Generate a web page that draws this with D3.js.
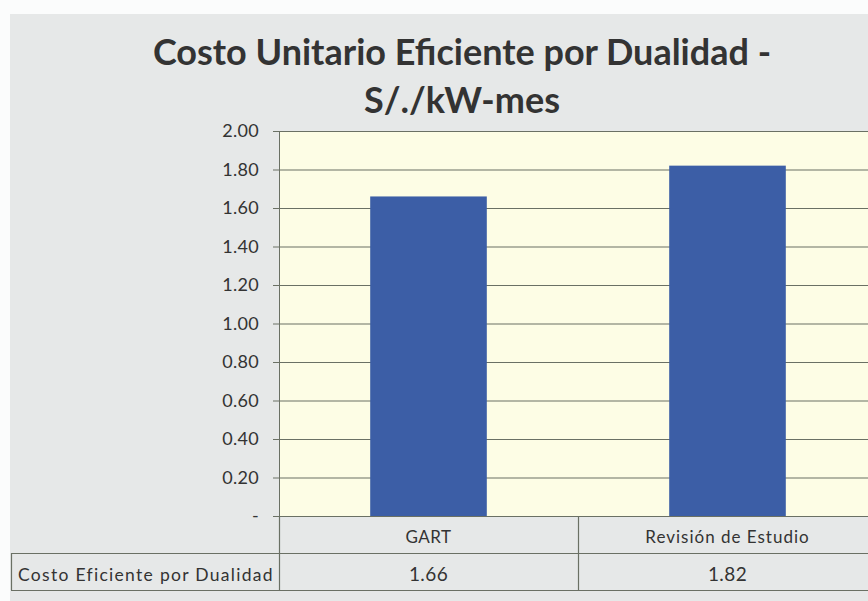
<!DOCTYPE html>
<html>
<head>
<meta charset="utf-8">
<script src="https://cdn.jsdelivr.net/npm/d3@7"></script>
<style>
  html, body { margin: 0; padding: 0; background: #fbfcfc; }
  svg { display: block; }
</style>
</head>
<body>
<svg id="chart" width="868" height="601"></svg>
<script>
// data
const categories = ['GART', 'Revisión de Estudio']
const values = [1.66, 1.82]
const seriesName = 'Costo Eficiente por Dualidad'
const tickValues = [0, 0.2, 0.4, 0.6, 0.8, 1.0, 1.2, 1.4, 1.6, 1.8, 2.0]
const titleLines = ['Costo Unitario Eficiente por Dualidad -', 'S/./kW-mes']

const font = 'Lato, "Open Sans", sans-serif'
const gridColor = '#6a7064'
const textColor = '#333333'

const svg = d3.select('#chart')

// grey paper background
svg.append('rect')
    .attr('x', 10).attr('y', 14)
    .attr('width', 858).attr('height', 587)
    .attr('fill', '#e6e8e8')

const plotLeft = 279, plotRight = 877
const plotTop = 131, plotBottom = 516

const x = d3.scaleBand()
    .domain(categories)
    .range([plotLeft, plotRight])
    .padding(0)

const y = d3.scaleLinear()
    .domain([0, 2])
    .range([plotBottom, plotTop])

// plot area
svg.append('rect')
    .attr('x', plotLeft).attr('y', plotTop)
    .attr('width', plotRight - plotLeft).attr('height', plotBottom - plotTop)
    .attr('fill', '#fdfde5')

// gridlines
svg.append('g')
    .selectAll('line')
    .data(tickValues)
    .enter()
    .append('line')
    .attr('x1', plotLeft - 6)
    .attr('x2', plotRight)
    .attr('y1', d => y(d) + 0.5)
    .attr('y2', d => y(d) + 0.5)
    .attr('stroke', gridColor)
    .attr('stroke-width', 1.2)

// y axis line
svg.append('line')
    .attr('x1', plotLeft + 0.5).attr('x2', plotLeft + 0.5)
    .attr('y1', plotTop).attr('y2', plotBottom)
    .attr('stroke', gridColor)

// tick labels
svg.append('g')
    .selectAll('text')
    .data(tickValues)
    .enter()
    .append('text')
    .attr('x', 259)
    .attr('y', d => y(d))
    .attr('dy', '0.36em')
    .attr('text-anchor', 'end')
    .attr('font-family', font)
    .attr('font-size', 18)
    .attr('letter-spacing', '0.3px')
    .attr('fill', textColor)
    .text(d => d === 0 ? '-' : d.toFixed(2))

// bars
const barFrac = 0.39
svg.append('g')
    .selectAll('rect')
    .data(values)
    .enter()
    .append('rect')
    .attr('x', (d, i) => x(categories[i]) + x.bandwidth() * (1 - barFrac) / 2)
    .attr('width', x.bandwidth() * barFrac)
    .attr('y', d => y(d))
    .attr('height', d => y(0) - y(d))
    .attr('fill', '#3c5ea6')

// data table
const row1 = plotBottom, row2 = 553, row3 = 590
const tableLeft = 11
const tbl = svg.append('g')
    .attr('stroke', gridColor)
    .attr('stroke-width', 1.2)

tbl.append('line').attr('x1', tableLeft).attr('x2', plotRight)
    .attr('y1', row2 + 0.5).attr('y2', row2 + 0.5)
tbl.append('line').attr('x1', tableLeft).attr('x2', plotRight)
    .attr('y1', row3 + 0.5).attr('y2', row3 + 0.5)
tbl.append('line').attr('x1', tableLeft + 0.5).attr('x2', tableLeft + 0.5)
    .attr('y1', row2).attr('y2', row3)
tbl.selectAll('line.v')
    .data(categories.concat([null]))
    .enter()
    .append('line')
    .attr('class', 'v')
    .attr('x1', (d, i) => plotLeft + i * x.step() + 0.5)
    .attr('x2', (d, i) => plotLeft + i * x.step() + 0.5)
    .attr('y1', row1)
    .attr('y2', row3)

svg.append('g')
    .selectAll('text')
    .data(categories)
    .enter()
    .append('text')
    .attr('x', d => x(d) + x.bandwidth() / 2)
    .attr('y', (row1 + row2) / 2 + 2)
    .attr('dy', '0.36em')
    .attr('text-anchor', 'middle')
    .attr('font-family', font)
    .attr('font-size', 17)
    .attr('letter-spacing', (d, i) => i === 1 ? '1px' : '0.5px')
    .attr('fill', textColor)
    .text(d => d)

svg.append('g')
    .selectAll('text')
    .data(values)
    .enter()
    .append('text')
    .attr('x', (d, i) => x(categories[i]) + x.bandwidth() / 2)
    .attr('y', (row2 + row3) / 2 + 3)
    .attr('dy', '0.36em')
    .attr('text-anchor', 'middle')
    .attr('font-family', font)
    .attr('font-size', 19)
    .attr('letter-spacing', '0.4px')
    .attr('fill', textColor)
    .text(d => d.toFixed(2))

svg.append('text')
    .attr('x', 18)
    .attr('y', (row2 + row3) / 2 + 3)
    .attr('dy', '0.36em')
    .attr('font-family', font)
    .attr('font-size', 17.5)
    .attr('letter-spacing', '1.3px')
    .attr('fill', textColor)
    .text(seriesName)

// title
svg.append('g')
    .selectAll('text')
    .data(titleLines)
    .enter()
    .append('text')
    .attr('x', 462)
    .attr('y', (d, i) => 65 + i * 48)
    .attr('text-anchor', 'middle')
    .attr('font-family', font)
    .attr('font-weight', 'bold')
    .attr('font-size', 36)
    .attr('fill', textColor)
    .text(d => d)
</script>
</body>
</html>
